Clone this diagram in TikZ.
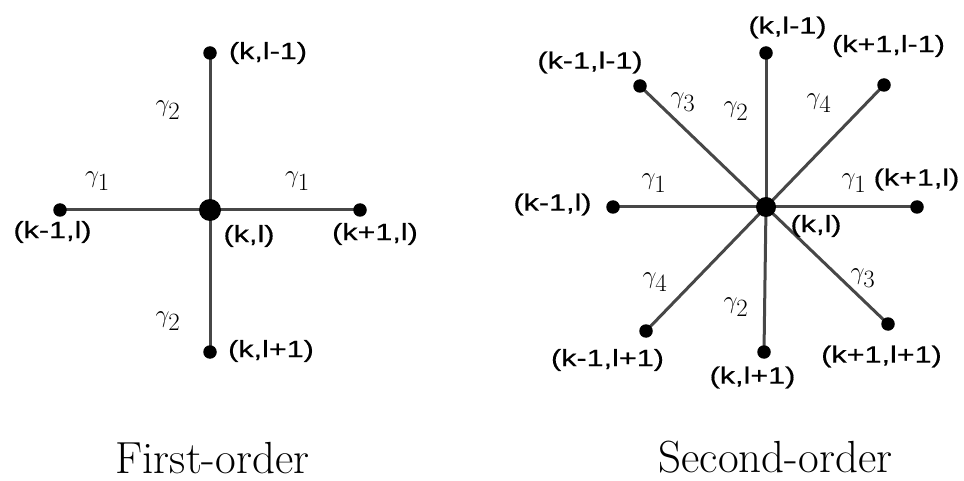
\documentclass[tikz,border=0pt]{standalone}
\usepackage{fontspec}
\usetikzlibrary{backgrounds}
\newfontfamily\labfont[FakeStretch=1.3,FakeBold=0.5]{Liberation Sans}
\begin{document}
\begin{tikzpicture}[x=1pt,y=-1pt,
  edge/.style={draw=black!72,line width=3pt},
  bigdot/.style={circle,fill=black,inner sep=0pt,minimum size=22pt},
  smalldot/.style={circle,fill=black,inner sep=0pt,minimum size=13.5pt},
  lab/.style={inner sep=0pt,font=\labfont\fontsize{23.5}{26}\selectfont},
  gam/.style={inner sep=0pt,font=\fontsize{36}{38}\selectfont},
  title/.style={inner sep=0pt,anchor=base,font=\fontsize{45}{50}\selectfont}]
\useasboundingbox (0,0) rectangle (964,481);
% ---------- First order ----------
\node[bigdot] (c1) at (210,210) {};
\node[smalldot] (t1) at (210,53) {};
\node[smalldot] (b1) at (210,352) {};
\node[smalldot] (l1) at (60,210) {};
\node[smalldot] (r1) at (360,210) {};
\begin{pgfonlayer}{background}
\draw[edge] (c1.center) -- (t1.center);
\draw[edge] (c1.center) -- (b1.center);
\draw[edge] (c1.center) -- (l1.center);
\draw[edge] (c1.center) -- (r1.center);
\end{pgfonlayer}
\node[lab] (lt1) at (268,53) {(k,l-1)};
\node[lab] (ll1) at (52.5,232) {(k-1,l)};
\node[lab] (lc1) at (249,236) {(k,l)};
\node[lab] (lr1) at (375,234) {(k+1,l)};
\node[lab] (lb1) at (271,351) {(k,l+1)};
\node[gam] (g2a) at (168,110) {$\gamma_2$};
\node[gam] (g1a) at (97.5,181) {$\gamma_1$};
\node[gam] (g1b) at (297.5,181) {$\gamma_1$};
\node[gam] (g2b) at (168,321) {$\gamma_2$};
\node[title] (tt1) at (212.5,473) {First-order};
% ---------- Second order ----------
\node[bigdot,minimum size=20pt] (c2) at (766,207) {};
\node[smalldot] (t2) at (766,53) {};
\node[smalldot] (b2) at (764,352) {};
\node[smalldot] (l2) at (613,207) {};
\node[smalldot] (r2) at (917,207) {};
\node[smalldot] (ul2) at (640,86) {};
\node[smalldot] (ur2) at (884,85) {};
\node[smalldot] (dl2) at (646,331) {};
\node[smalldot] (dr2) at (888,324) {};
\begin{pgfonlayer}{background}
\foreach \n in {t2,b2,l2,r2,ul2,ur2,dl2,dr2}
  \draw[edge] (c2.center) -- (\n.center);
\end{pgfonlayer}
\node[lab] (lt2) at (787.5,27.5) {(k,l-1)};
\node[lab] (lur2) at (888.5,46) {(k+1,l-1)};
\node[lab] (lul2) at (590,62.5) {(k-1,l-1)};
\node[lab] (ll2) at (552.5,204.5) {(k-1,l)};
\node[lab] (lr2) at (916.5,179.5) {(k+1,l)};
\node[lab] (lc2) at (816,226) {(k,l)};
\node[lab] (ldl2) at (607.5,360) {(k-1,l+1)};
\node[lab] (lb2) at (752.5,377.5) {(k,l+1)};
\node[lab] (ldr2) at (881.5,356.5) {(k+1,l+1)};
\node[gam] (h3a) at (683,102) {$\gamma_3$};
\node[gam] (h2a) at (736,111) {$\gamma_2$};
\node[gam] (h4a) at (819,103) {$\gamma_4$};
\node[gam] (h1a) at (654,183) {$\gamma_1$};
\node[gam] (h1b) at (854,183) {$\gamma_1$};
\node[gam] (h4b) at (655,282) {$\gamma_4$};
\node[gam] (h2b) at (736,307) {$\gamma_2$};
\node[gam] (h3b) at (863,278) {$\gamma_3$};
\node[title] (tt2) at (775.5,472) {Second-order};
\end{tikzpicture}
\end{document}
